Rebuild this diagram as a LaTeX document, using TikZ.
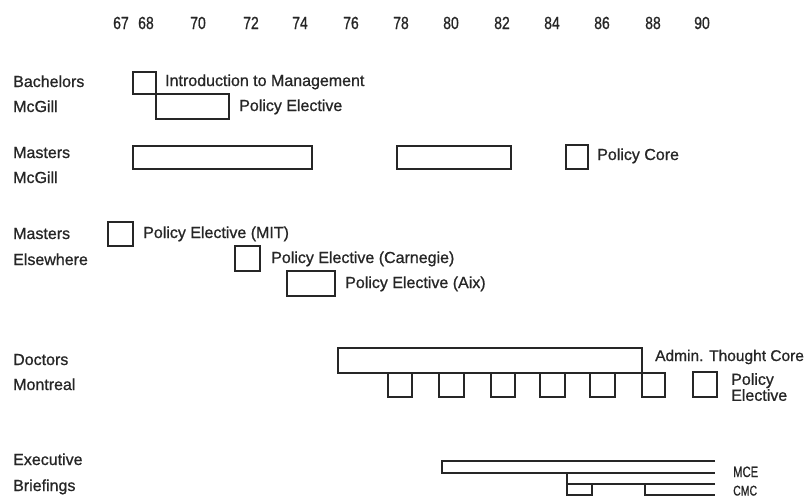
\documentclass[tikz,border=0pt]{standalone}
\usepackage{fontspec}
\setmainfont[FakeBold=0.8]{Liberation Sans}
\newfontfamily\yrfont[FakeBold=0.8, FakeStretch=0.8]{Liberation Sans}
\newfontfamily\narrowfont[FakeBold=0.8, FakeStretch=0.75]{Liberation Sans}
\newcommand\mybox[5]{\node[bar, minimum width={#4-#2}, minimum height={#5-#3}] (#1) at ({(#2+#4)/2},{(#3+#5)/2}) {};}
\begin{document}
\begin{tikzpicture}[x=1pt,y=-1pt,
  bar/.style={draw=black!85, line width=1.8pt, inner sep=0pt, outer sep=0pt, rectangle},
  lbl/.style={anchor=base west, inner sep=0pt, font=\fontsize{16}{18}\selectfont, text=black!85},
  yr/.style={anchor=base, inner sep=0pt, font=\yrfont\fontsize{17.5}{18}\selectfont, text=black!85},
  ln/.style={draw=black!85, line width=1.8pt}]
\useasboundingbox[fill=white] (0,0) rectangle (807,499);
% years
\node[yr] (y67) at (121,29) {67};
\node[yr] (y68) at (146,29) {68};
\node[yr] (y70) at (198,29) {70};
\node[yr] (y72) at (251,29) {72};
\node[yr] (y74) at (300,29) {74};
\node[yr] (y76) at (351,29) {76};
\node[yr] (y78) at (401,29) {78};
\node[yr] (y80) at (451,29) {80};
\node[yr] (y82) at (502,29) {82};
\node[yr] (y84) at (552,29) {84};
\node[yr] (y86) at (602,29) {86};
\node[yr] (y88) at (653,29) {88};
\node[yr] (y90) at (702,29) {90};
% row labels
\node[lbl] (r1a) at (13,87) {Bachelors};
\node[lbl] (r1b) at (13,112) {McGill};
\node[lbl] (r2a) at (13,158) {Masters};
\node[lbl] (r2b) at (13,183) {McGill};
\node[lbl] (r3a) at (13,239) {Masters};
\node[lbl] (r3b) at (13,265) {Elsewhere};
\node[lbl] (r4a) at (13,365) {Doctors};
\node[lbl] (r4b) at (13,390) {Montreal};
\node[lbl] (r5a) at (13,465) {Executive};
\node[lbl] (r5b) at (13,491) {Briefings};
% Bachelors
\mybox{intro}{133}{72}{156}{94}
\mybox{bpe}{156}{94}{229}{119}
\node[lbl] (lintro) at (165,86) {Introduction to Management};
\node[lbl] (lbpe) at (239,111) {Policy Elective};
% Masters McGill
\mybox{mm1}{133}{146}{312}{169}
\mybox{mm2}{397}{146}{511}{169}
\mybox{pcore}{566}{145}{588}{169}
\node[lbl] (lpcore) at (597,160) {Policy Core};
% Masters elsewhere
\mybox{mit}{108}{222}{133}{246}
\node[lbl] (lmit) at (143,238) {Policy Elective (MIT)};
\mybox{cmu}{235}{246}{260}{271}
\node[lbl] (lcmu) at (271,263) {Policy Elective (Carnegie)};
\mybox{aix}{287}{271}{335}{296}
\node[lbl] (laix) at (345,288) {Policy Elective (Aix)};
% Doctors
\mybox{atc}{338}{348}{642}{373}
\node[lbl, font=\fontsize{15.5}{18}\selectfont] (latc) at (655,361) {Admin. Thought Core};
\mybox{d1}{388}{373}{412}{397}
\mybox{d2}{439}{373}{464}{397}
\mybox{d3}{491}{373}{515}{397}
\mybox{d4}{540}{373}{565}{397}
\mybox{d5}{590}{373}{615}{397}
\mybox{d6}{642}{373}{665}{397}
\mybox{d7}{693}{372}{717}{397}
\node[lbl, align=left, anchor=north west, font=\fontsize{16}{16}\selectfont] (ldpe) at (731,373) {Policy\\Elective};
% Executive
\coordinate (mceA) at (715,461);
\coordinate (mceB) at (442,461);
\coordinate (mceC) at (442,473);
\coordinate (mceD) at (715,473);
\draw[ln] (mceA) -- (mceB) -- (mceC) -- (mceD);
\coordinate (cmcA) at (715,484);
\coordinate (cmcB) at (567,484);
\coordinate (cmcT) at (567,473);
\coordinate (cmcC) at (567,495);
\coordinate (cmcD) at (592,495);
\coordinate (cmcE) at (592,484);
\coordinate (cmcF) at (645,484);
\coordinate (cmcG) at (645,495);
\coordinate (cmcH) at (715,495);
\draw[ln] (cmcA) -- (cmcB);
\draw[ln] (cmcT) -- (cmcC) -- (cmcD) -- (cmcE);
\draw[ln] (cmcF) -- (cmcG) -- (cmcH);
\node[lbl, font=\narrowfont\fontsize{15}{16}\selectfont] (lmce) at (733,477) {MCE};
\node[lbl, font=\narrowfont\fontsize{14}{16}\selectfont] (lcmc) at (733,495.5) {CMC};
\end{tikzpicture}
\end{document}
